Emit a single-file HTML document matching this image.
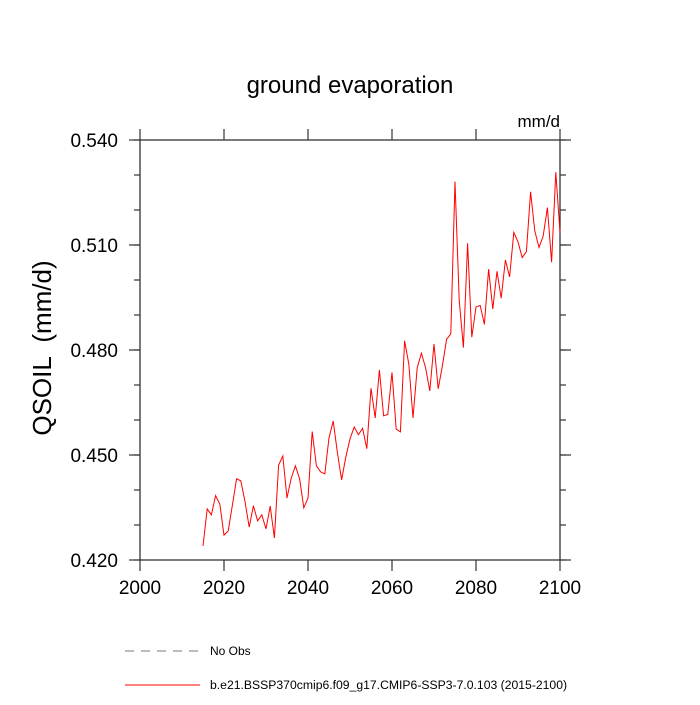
<!DOCTYPE html>
<html><head><meta charset="utf-8"><style>
body{margin:0;background:#fff}
svg text{font-family:"Liberation Sans",sans-serif}
</style></head><body>
<svg id="chart" width="700" height="700" viewBox="0 0 700 700">
<text x="350" y="93" font-size="24" text-anchor="middle">ground evaporation</text>
<text x="560" y="127" font-size="17" text-anchor="end">mm/d</text>
<text transform="translate(51,348) rotate(-90)" font-size="26" text-anchor="middle" style="white-space:pre">QSOIL  (mm/d)</text>
<rect x="140" y="140" width="420" height="420" fill="none" stroke="#222" stroke-width="1.2"/>
<g id="axes"></g>
<polyline id="series" fill="none" stroke="#ff0000" stroke-width="1"/>
<line x1="125" y1="651" x2="200" y2="651" stroke="#777" stroke-dasharray="9,7"/>
<text x="210" y="655" font-size="12">No Obs</text>
<line x1="125" y1="685" x2="200" y2="685" stroke="#ff0000"/>
<text x="210" y="689" font-size="12.2">b.e21.BSSP370cmip6.f09_g17.CMIP6-SSP3-7.0.103 (2015-2100)</text>
</svg>
<script>
const startYear = 2015;
const values = [0.4240,0.4346,0.4329,0.4384,0.4360,0.4271,0.4283,0.4357,0.4432,0.4426,
0.4367,0.4294,0.4355,0.4312,0.4329,0.4289,0.4354,0.4263,0.4471,0.4497,
0.4377,0.4434,0.4469,0.4432,0.4349,0.4377,0.4567,0.4469,0.4452,0.4446,
0.4549,0.4597,0.4507,0.4429,0.4494,0.4546,0.4580,0.4558,0.4576,0.4518,
0.4691,0.4606,0.4743,0.4612,0.4616,0.4736,0.4574,0.4566,0.4826,0.4760,
0.4606,0.4749,0.4791,0.4749,0.4683,0.4817,0.4689,0.4755,0.4831,0.4846,
0.5281,0.4943,0.4807,0.5105,0.4837,0.4923,0.4927,0.4873,0.5031,0.4917,
0.5025,0.4948,0.5057,0.5009,0.5136,0.5109,0.5064,0.5081,0.5252,0.5140,
0.5093,0.5126,0.5207,0.5051,0.5308,0.5135];
const xTicks = [2000,2020,2040,2060,2080,2100];
const yTicks = [0.420,0.450,0.480,0.510,0.540];
const xMin=2000,xMax=2100,yMin=0.42,yMax=0.54;
const L=140,R=560,T=140,B=560;
const xs=v=>L+(v-xMin)/(xMax-xMin)*(R-L);
const ys=v=>B-(v-yMin)/(yMax-yMin)*(B-T);
const NS="http://www.w3.org/2000/svg";
const g=document.getElementById('axes');
function ln(x1,y1,x2,y2,name){const e=document.createElementNS(NS,'line');
e.setAttribute('x1',x1);e.setAttribute('y1',y1);e.setAttribute('x2',x2);e.setAttribute('y2',y2);
e.setAttribute('stroke','#333');e.setAttribute('stroke-width','1.2');


g.appendChild(e);}
function tx(x,y,s,anchor,name){const e=document.createElementNS(NS,'text');
e.setAttribute('x',x);e.setAttribute('y',y);e.setAttribute('font-size','19');e.setAttribute('text-anchor',anchor);e.textContent=s;


g.appendChild(e);}
xTicks.forEach(v=>{const x=xs(v);ln(x,B,x,B+11,'x-tick');ln(x,T,x,T-11,'x-tick-top');tx(x,B+34,String(v),'middle','x-tick-label');});
yTicks.forEach(v=>{const y=ys(v);ln(L,y,L-11,y,'y-tick');ln(R,y,R+11,y,'y-tick-right');tx(L-22,y+7,v.toFixed(3),'end','y-tick-label');});
for(let i=0;i<=12;i++){const v=yMin+i*0.01;const y=ys(v);ln(L,y,L-6,y,'y-minor-tick');ln(R,y,R+6,y,'y-minor-tick-right');}
document.getElementById('series').setAttribute('points',values.map((v,i)=>xs(startYear+i)+','+ys(v)).join(' '));
</script>
</body></html>
